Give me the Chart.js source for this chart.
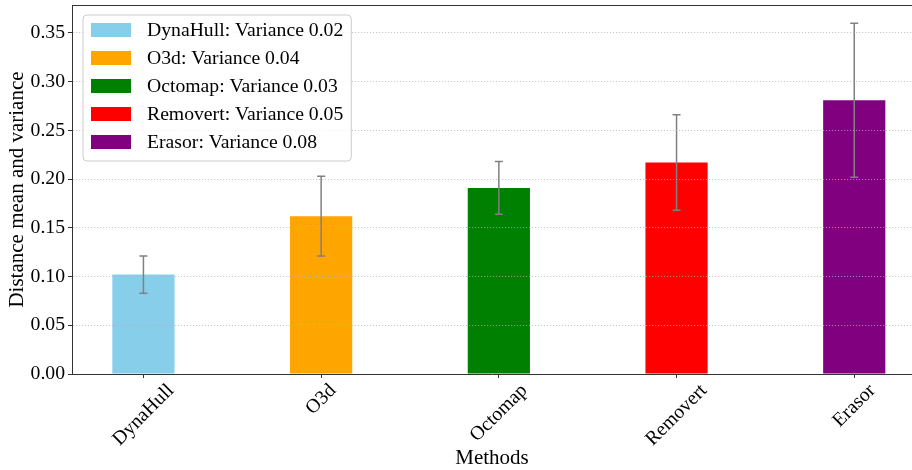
<!DOCTYPE html>
<html>
<head>
<meta charset="utf-8">
<script src="https://cdn.jsdelivr.net/npm/chart.js@4.4.0/dist/chart.umd.min.js"></script>
<style>
  html, body { margin: 0; padding: 0; background: #fff; }
</style>
</head>
<body>
<canvas id="chart" width="912" height="470"></canvas>
<script>
// Values
const methods = ["DynaHull", "O3d", "Octomap", "Removert", "Erasor"];
const means = [0.102, 0.162, 0.191, 0.217, 0.281];
const errors = [0.019, 0.041, 0.027, 0.049, 0.079];
const variances = [0.02, 0.04, 0.03, 0.05, 0.08];
const colors = ["#87ceeb", "#ffa500", "#008000", "#ff0000", "#800080"];
const yTicks = [0, 0.05, 0.10, 0.15, 0.20, 0.25, 0.30, 0.35];

const FONT = "'Liberation Serif', 'Times New Roman', serif";
const FS = 19.7;   // tick and legend text
const FS_AXIS = 21; // axis titles
const SPINE = "#333333";

Chart.defaults.font.family = FONT;
Chart.defaults.color = "#000";

// gray error bars with small caps, drawn on top of the bars
const errorBars = {
    id: "errorBars",
    afterDatasetsDraw(chart) {
        const ctx = chart.ctx;
        const y = chart.scales.y;
        const meta = chart.getDatasetMeta(0);
        ctx.save();
        ctx.strokeStyle = "#808080";
        ctx.lineWidth = 1.5;
        meta.data.forEach((bar, i) => {
            const top = y.getPixelForValue(means[i] + errors[i]);
            const bot = y.getPixelForValue(means[i] - errors[i]);
            ctx.beginPath();
            ctx.moveTo(bar.x, top);
            ctx.lineTo(bar.x, bot);
            ctx.moveTo(bar.x - 4, top);
            ctx.lineTo(bar.x + 4, top);
            ctx.moveTo(bar.x - 4, bot);
            ctx.lineTo(bar.x + 4, bot);
            ctx.stroke();
        });
        ctx.restore();
    }
};

// top spine, 45 degree centred method names, framed legend in the corner
const decorations = {
    id: "decorations",
    afterDraw(chart) {
        const { ctx, chartArea } = chart;
        const x = chart.scales.x;

        ctx.save();
        ctx.strokeStyle = SPINE;
        ctx.lineWidth = 1;
        ctx.beginPath();
        ctx.moveTo(chartArea.left, chartArea.top + 0.5);
        ctx.lineTo(chartArea.right, chartArea.top + 0.5);
        ctx.stroke();

        // x labels, centred under each bar like matplotlib rotation=45
        ctx.font = `${FS}px ${FONT}`;
        ctx.fillStyle = "#000";
        ctx.textAlign = "center";
        ctx.textBaseline = "middle";
        methods.forEach((m, i) => {
            const px = x.getPixelForValue(i);
            const w = ctx.measureText(m).width;
            const cy = chartArea.bottom + 6 + (w + FS * 1.1) * Math.SQRT1_2 / 2;
            ctx.save();
            ctx.translate(px, cy);
            ctx.rotate(-Math.PI / 4);
            ctx.fillText(m, 0, 0);
            ctx.restore();
        });

        // legend
        const labels = methods.map((m, i) => `${m}: Variance ${variances[i].toFixed(2)}`);
        ctx.textAlign = "left";
        const textW = Math.max(...labels.map(t => ctx.measureText(t).width));
        const x0 = chartArea.left + 11;
        const y0 = chartArea.top + 10;
        const w = 64 + textW + 8;
        const h = 146;
        const r = 4;
        ctx.beginPath();
        ctx.moveTo(x0 + r, y0);
        ctx.arcTo(x0 + w, y0, x0 + w, y0 + h, r);
        ctx.arcTo(x0 + w, y0 + h, x0, y0 + h, r);
        ctx.arcTo(x0, y0 + h, x0, y0, r);
        ctx.arcTo(x0, y0, x0 + w, y0, r);
        ctx.closePath();
        ctx.fillStyle = "rgba(255,255,255,0.8)";
        ctx.fill();
        ctx.strokeStyle = "#cccccc";
        ctx.stroke();
        labels.forEach((t, i) => {
            const cy = y0 + 15 + i * 28;
            ctx.fillStyle = colors[i];
            ctx.fillRect(x0 + 8, cy - 7, 40, 14);
            ctx.fillStyle = "#000";
            ctx.fillText(t, x0 + 64, cy + 1);
        });
        ctx.restore();
    }
};

const gridColor = "rgba(176,176,176,0.7)";

new Chart(document.getElementById("chart"), {
    type: "bar",
    data: {
        datasets: [{
            data: means.map((v, i) => ({ x: i, y: v })),
            backgroundColor: colors,
            borderWidth: 0,
            categoryPercentage: 1,
            barPercentage: 0.35
        }]
    },
    options: {
        responsive: false,
        animation: false,
        layout: { padding: { top: 5, left: 0, right: 0, bottom: 0 } },
        plugins: {
            legend: { display: false },
            tooltip: { enabled: false }
        },
        scales: {
            x: {
                type: "linear",
                offset: false,
                min: -0.402,
                max: 4.325,
                afterBuildTicks: (scale) => {
                    scale.ticks = methods.map((_, i) => ({ value: i }));
                },
                afterFit: (scale) => {
                    scale.height = 96;
                    scale.paddingLeft = 0;
                    scale.paddingRight = 0;
                },
                ticks: { display: false },
                grid: {
                    offset: false,
                    drawOnChartArea: false,
                    drawTicks: true,
                    tickLength: 4,
                    tickColor: SPINE
                },
                border: { display: true, color: SPINE, width: 1 },
                title: {
                    display: true,
                    text: "Methods",
                    font: { size: FS_AXIS },
                    padding: { top: 0, bottom: -1 }
                }
            },
            y: {
                min: 0,
                max: 0.3787,
                afterBuildTicks: (scale) => {
                    scale.ticks = yTicks.map(v => ({ value: v }));
                },
                afterFit: (scale) => {
                    scale.width = 72;
                    scale.paddingTop = 0;
                    scale.paddingBottom = 0;
                },
                ticks: {
                    font: { size: FS },
                    padding: 3,
                    callback: (v) => Number(v).toFixed(2)
                },
                grid: {
                    z: 1,
                    color: (c) => (c.tick && c.tick.value === 0 ? "rgba(0,0,0,0)" : gridColor),
                    lineWidth: 1,
                    tickLength: 4,
                    tickColor: SPINE
                },
                // same layer as the grid so the left spine is placed after it is computed
                border: { display: true, color: SPINE, width: 1, dash: [1.2, 1.8], z: 1 },
                title: {
                    display: true,
                    text: "Distance mean and variance",
                    font: { size: FS_AXIS },
                    padding: { top: 5, bottom: 0 }
                }
            }
        }
    },
    plugins: [errorBars, decorations]
});
</script>
</body>
</html>
